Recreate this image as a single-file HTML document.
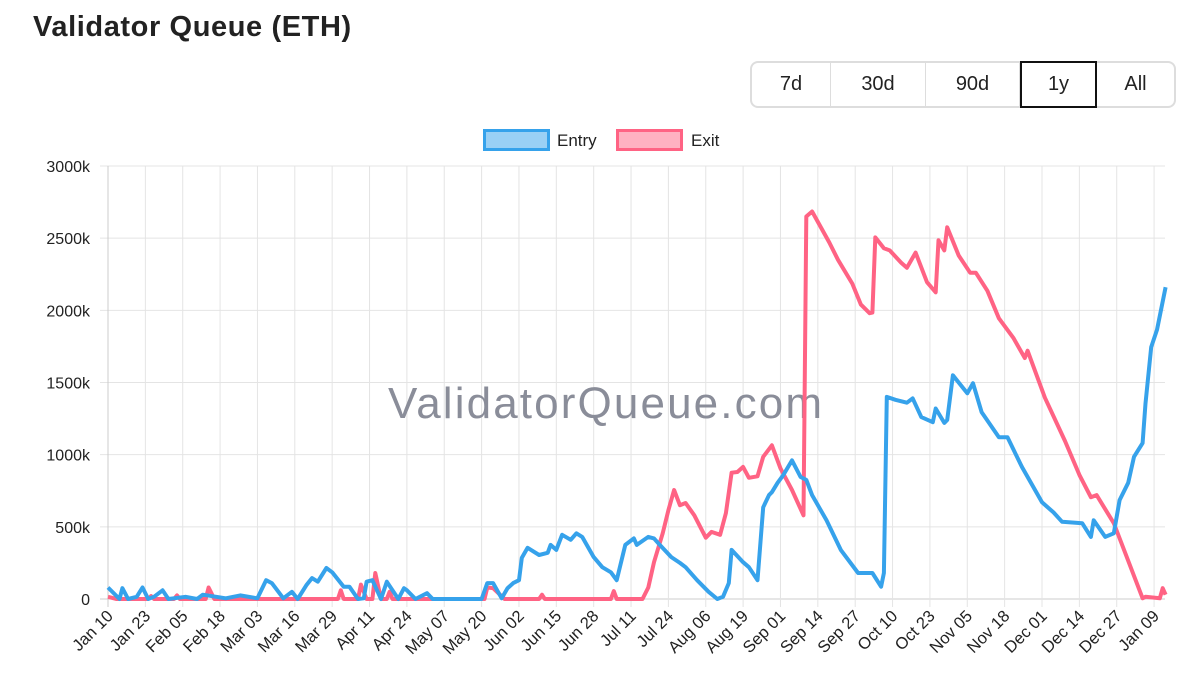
<!DOCTYPE html>
<html><head><meta charset="utf-8"><style>
body{margin:0;background:#fff;width:1200px;height:691px;overflow:hidden;font-family:"Liberation Sans",sans-serif;}
#title{position:absolute;left:33px;top:11px;font-size:29px;font-weight:bold;color:#222;letter-spacing:0.6px}
#btns{position:absolute;left:750px;top:61px;width:422px;height:43px;border:2px solid #ddd;border-radius:8px;display:flex;box-sizing:content-box}
.b{font-size:20px;color:#222;display:flex;align-items:center;justify-content:center;border-right:1px solid #ddd;box-sizing:border-box;height:43px}
.b:last-child{border-right:none}
.sel{border:2px solid #111;height:47px;margin-top:-2px}
svg{position:absolute;left:0;top:0}
</style></head><body>
<div id="title">Validator Queue (ETH)</div>
<div id="btns">
<div class="b" style="width:79px">7d</div>
<div class="b" style="width:95px">30d</div>
<div class="b" style="width:94px">90d</div>
<div class="b sel" style="width:77px">1y</div>
<div class="b" style="width:77px">All</div>
</div>
<svg id="c" width="1200" height="691"></svg>
<script>
const xLabels=["Jan 10","Jan 23","Feb 05","Feb 18","Mar 03","Mar 16","Mar 29","Apr 11","Apr 24","May 07","May 20","Jun 02","Jun 15","Jun 28","Jul 11","Jul 24","Aug 06","Aug 19","Sep 01","Sep 14","Sep 27","Oct 10","Oct 23","Nov 05","Nov 18","Dec 01","Dec 14","Dec 27","Jan 09"];
const yTicks=[0,500,1000,1500,2000,2500,3000];
const yTickLabels=["0","500k","1000k","1500k","2000k","2500k","3000k"];
const entryDays=[0,4,5,7,10,12,14,16,19,21,27,31,33,41,46,52,55,57,61,64,66,69,71,73,76,78,82,84,87,89,90,92,95,97,101,103,104,107,111,113,130,132,134,137,139,141,143,144,146,150,153,154,156,158,161,163,165,169,172,175,177,180,183,184,188,190,192,196,199,201,205,209,212,214,216,217,221,223,226,228,230,231,233,235,238,241,243,245,250,255,261,266,269,270,271,274,278,280,283,287,288,291,292,294,299,301,304,310,313,318,325,329,332,339,342,343,347,350,352,355,356,357,360,361,363,365,368];
const entryVals=[80,0,75,0,15,80,0,15,60,0,15,0,30,5,25,5,130,110,5,50,0,95,145,120,215,185,85,85,0,5,120,130,0,120,0,75,60,0,40,0,0,110,110,5,75,110,130,285,355,305,320,375,340,445,410,455,430,290,220,185,130,375,420,375,430,420,375,290,250,220,130,50,0,15,110,340,255,220,130,635,720,740,805,860,960,845,825,720,545,340,180,180,85,180,1400,1380,1360,1390,1260,1225,1320,1220,1240,1550,1425,1495,1295,1120,1120,915,670,600,535,525,430,545,430,455,685,805,895,985,1080,1355,1745,1865,2160];
const exitDays=[0,3,14,15,16,23,24,25,34,35,37,80,81,82,87,88,90,92,93,95,97,98,99,131,132,134,138,150,151,152,175,176,177,186,188,190,193,195,197,199,201,204,208,210,213,215,217,219,221,223,226,228,231,234,238,242,243,245,251,254,259,262,265,266,267,270,272,276,278,281,285,288,289,291,292,296,300,302,306,310,315,319,320,326,333,338,342,344,350,360,361,366,367,368];
const exitVals=[15,0,0,20,0,0,25,0,0,80,0,0,60,0,0,100,0,0,180,0,0,50,0,0,80,75,0,0,30,0,0,55,0,0,80,255,455,615,755,650,665,580,425,465,445,595,875,880,915,840,850,985,1065,905,755,580,2650,2685,2470,2350,2185,2040,1980,1985,2505,2430,2415,2330,2295,2400,2195,2125,2485,2415,2575,2380,2260,2260,2135,1945,1810,1670,1720,1395,1095,860,705,720,525,5,15,5,75,30];
const X0=108,X1=1165,Y0=599,Y1=166,STEP=13,TICKW=37.36;
const xS=d=>X0+d*TICKW/STEP;
const yS=v=>Y0-(v/3000)*(Y0-Y1);
const svg=document.getElementById('c');const NS='http://www.w3.org/2000/svg';
function mk(t,a,p){const e=document.createElementNS(NS,t);for(const k in a)e.setAttribute(k,a[k]);(p||svg).appendChild(e);return e;}
yTicks.forEach((v,i)=>{const l=mk('line',{x1:X0-8,x2:X1,y1:yS(v),y2:yS(v),stroke:v===0?'#ccc':'#e4e4e4','stroke-width':1});


const t=mk('text',{x:90,y:yS(v)+6,'text-anchor':'end','font-size':16,fill:'#222','font-family':'Liberation Sans, sans-serif'});t.textContent=yTickLabels[i];

});
xLabels.forEach((s,i)=>{const x=xS(i*STEP);const l=mk('line',{x1:x,x2:x,y1:Y1,y2:Y0+8,stroke:i===0?'#ccc':'#e4e4e4','stroke-width':1});


const t=mk('text',{x:x+6,y:Y0+18,'text-anchor':'end','font-size':16.5,fill:'#222','font-family':'Liberation Sans, sans-serif',transform:`rotate(-45 ${x+6} ${Y0+18})`});t.textContent=s;

});
const wm=mk('text',{x:605,y:418,'text-anchor':'middle','font-size':44,fill:'#8a8d99',textLength:434,'font-family':'Liberation Sans, sans-serif'});wm.textContent='ValidatorQueue.com';


function line(days,vals,col,name){const p=mk('polyline',{points:days.map((d,i)=>xS(d).toFixed(1)+','+yS(vals[i]).toFixed(1)).join(' '),fill:'none',stroke:col,'stroke-width':4,'stroke-linejoin':'round'});

}
line(exitDays,exitVals,'#ff6384','exit-line');
line(entryDays,entryVals,'#36a2eb','entry-line');
const lg=[['Entry',483,557,'rgba(54,162,235,0.5)','#36a2eb'],['Exit',616,691,'rgba(255,99,132,0.5)','#ff6384']];
lg.forEach(([n,bx,tx,f,s])=>{const r=mk('rect',{x:bx+1.5,y:130.5,width:64,height:19,fill:f,stroke:s,'stroke-width':3});


const t=mk('text',{x:tx,y:146,'font-size':17,fill:'#222','font-family':'Liberation Sans, sans-serif'});t.textContent=n;

});
</script>
</body></html>
